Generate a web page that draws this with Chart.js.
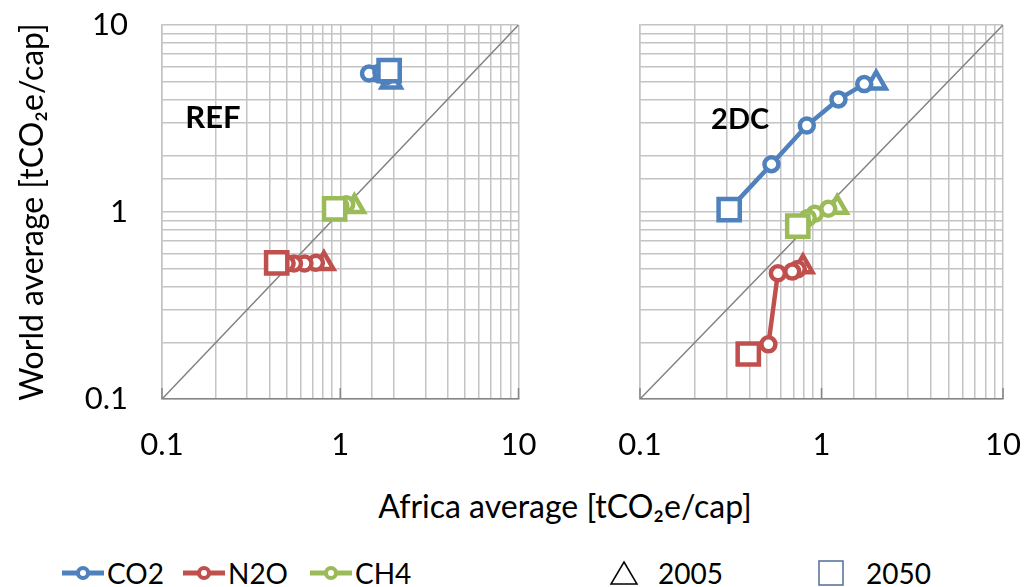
<!DOCTYPE html>
<html>
<head>
<meta charset="utf-8">
<script src="https://cdn.jsdelivr.net/npm/chart.js@4/dist/chart.umd.min.js"></script>
<style>
  body { margin: 0; background: #fff; width: 1025px; height: 587px; position: relative; overflow: hidden;
         font-family: Lato, "DejaVu Sans", sans-serif; color: #000; }
  #leftWrap { position: absolute; left: 0; top: 0; width: 538px; height: 470px; }
  #rightWrap { position: absolute; left: 530px; top: 0; width: 495px; height: 470px; }
  #xTitle { position: absolute; left: 265px; width: 600px; top: 487px; line-height: 38px;
            text-align: center; font-size: 32px; }
  .leg { position: absolute; top: 555px; height: 36px; line-height: 36px; font-size: 28px;
         display: flex; align-items: center; white-space: nowrap; }
  .leg svg { margin-right: 3px; }
</style>
</head>
<body>
<div id="leftWrap"><canvas id="refChart" width="538" height="470"></canvas></div>
<div id="rightWrap"><canvas id="dcChart" width="495" height="470"></canvas></div>
<div id="xTitle">Africa average [tCO₂e/cap]</div>
<div id="legend"></div>

<script>
// years of each point: first is 2005 (triangle), last is 2050 (square)
const years = [2005, 2010, 2020, 2030, 2040, 2050];
const seriesNames = ["CO2", "N2O", "CH4"];
const seriesColors = ["#4F81BD", "#C0504D", "#9BBB59"];
const tickLabels = ["0.1", "1", "10"];

// REF scenario: x = Africa average, y = World average [tCO2e/cap]
const refCO2x = [1.93, 1.80, 1.60, 1.45, 1.70, 1.88];
const refCO2y = [4.95, 5.30, 5.50, 5.50, 5.60, 5.70];
const refN2Ox = [0.81, 0.73, 0.63, 0.55, 0.50, 0.44];
const refN2Oy = [0.53, 0.535, 0.53, 0.53, 0.53, 0.535];
const refCH4x = [1.20, 1.08, 1.00, 0.97, 0.95, 0.93];
const refCH4y = [1.07, 1.10, 1.08, 1.06, 1.05, 1.04];

// 2DC scenario
const dcCO2x = [2.00, 1.72, 1.24, 0.83, 0.53, 0.31];
const dcCO2y = [4.90, 4.83, 4.00, 2.90, 1.80, 1.03];
const dcN2Ox = [0.79, 0.74, 0.69, 0.575, 0.51, 0.395];
const dcN2Oy = [0.51, 0.495, 0.48, 0.47, 0.196, 0.174];
const dcCH4x = [1.22, 1.09, 0.92, 0.84, 0.78, 0.74];
const dcCH4y = [1.06, 1.04, 0.98, 0.93, 0.88, 0.84];

const fontFamily = "Lato, 'DejaVu Sans', sans-serif";
const gridColor = "#c4c4c4";

function pts(xs, ys) {
  return xs.map((x, i) => ({ x: x, y: ys[i] }));
}

function pointStyles() {
  return years.map((y, i) => i === 0 ? "triangle" : (i === years.length - 1 ? "rect" : "circle"));
}
function pointRadii() {
  return years.map((y, i) => i === 0 ? 11 : (i === years.length - 1 ? 15 : 7));
}

function seriesDataset(name, color, xs, ys) {
  return {
    label: name,
    data: pts(xs, ys),
    showLine: true,
    borderColor: color,
    borderWidth: 4.5,
    pointStyle: pointStyles(),
    pointRadius: pointRadii(),
    pointBorderWidth: 4.5,
    pointBackgroundColor: "#fff",
    pointBorderColor: color
  };
}

function diagonal() {
  return {
    label: "1:1",
    data: [{ x: 0.1, y: 0.1 }, { x: 10, y: 10 }],
    showLine: true,
    borderColor: "#808080",
    borderWidth: 1.5,
    pointRadius: 0
  };
}

function majorLabel(v) {
  const l = Math.log10(v);
  if (Math.abs(l - Math.round(l)) < 1e-6) {
    return tickLabels[Math.round(l) + 1];
  }
  return "";
}

// short inner tick marks on the bottom axis + panel name
const panelDecor = {
  id: "panelDecor",
  afterDraw(chart, args, opts) {
    const ctx = chart.ctx;
    const xs = chart.scales.x, ys = chart.scales.y;
    ctx.save();
    ctx.strokeStyle = "#868686";
    ctx.lineWidth = 1.5;
    [0.1, 1, 10].forEach(v => {
      const px = xs.getPixelForValue(v);
      ctx.beginPath();
      ctx.moveTo(px, ys.bottom);
      ctx.lineTo(px, ys.bottom - 11);
      ctx.stroke();
    });
    ctx.font = "bold " + opts.size + "px " + fontFamily;
    ctx.fillStyle = "#000";
    ctx.textAlign = "center";
    ctx.textBaseline = "middle";
    ctx.fillText(opts.text, xs.getPixelForValue(opts.x), ys.getPixelForValue(opts.y));
    ctx.restore();
  }
};

function makePanel(id, sets, panelName, labelAt, labelSize, showY, yWidth, rightPad) {
  const tickFont = { family: fontFamily, size: 31 };
  return new Chart(document.getElementById(id), {
    type: "scatter",
    data: {
      datasets: [
        seriesDataset(seriesNames[0], seriesColors[0], sets[0][0], sets[0][1]),
        seriesDataset(seriesNames[1], seriesColors[1], sets[1][0], sets[1][1]),
        seriesDataset(seriesNames[2], seriesColors[2], sets[2][0], sets[2][1]),
        diagonal()
      ]
    },
    options: {
      responsive: false,
      animation: false,
      layout: { padding: { top: 25, right: rightPad, left: 0, bottom: 0 } },
      plugins: {
        legend: { display: false },
        tooltip: { enabled: false },
        panelDecor: { text: panelName, x: labelAt[0], y: labelAt[1], size: labelSize }
      },
      scales: {
        x: {
          type: "logarithmic",
          min: 0.1, max: 10,
          ticks: { autoSkip: false, maxRotation: 0, padding: 27, color: "#000", font: tickFont,
                   callback: v => majorLabel(v) },
          grid: { color: gridColor, lineWidth: 1.5, drawTicks: false },
          border: { color: "#868686", width: 1.5 },
          afterFit: s => { s.height = 71; s.paddingLeft = 0; s.paddingRight = 0; }
        },
        y: {
          type: "logarithmic",
          min: 0.1, max: 10,
          ticks: { display: showY, autoSkip: false, padding: 34, color: "#000", font: tickFont,
                   callback: v => majorLabel(v) },
          grid: { color: gridColor, lineWidth: 1.5, drawTicks: false },
          border: { color: gridColor, width: 1.5 },
          title: { display: showY, text: "World average [tCO₂e/cap]", color: "#000",
                   font: { family: fontFamily, size: 32 }, padding: { top: 13, bottom: 0 } },
          afterFit: s => { s.width = yWidth; s.paddingTop = 0; s.paddingBottom = 0; }
        }
      }
    },
    plugins: [panelDecor]
  });
}

makePanel("refChart",
  [[refCO2x, refCO2y], [refN2Ox, refN2Oy], [refCH4x, refCH4y]],
  "REF", [0.193, 3.18], 31, true, 162, 18);
makePanel("dcChart",
  [[dcCO2x, dcCO2y], [dcN2Ox, dcN2Oy], [dcCH4x, dcCH4y]],
  "2DC", [0.356, 3.13], 29, false, 110, 22);

// legend below both panels
const legend = document.getElementById("legend");
const legendLeft = [62, 183, 310];
seriesNames.forEach((name, i) => {
  const c = seriesColors[i];
  const d = document.createElement("div");
  d.className = "leg";
  d.style.left = legendLeft[i] + "px";
  d.innerHTML = '<svg width="42" height="20"><line x1="0" y1="10" x2="42" y2="10" stroke="' + c +
    '" stroke-width="5"/><circle cx="21" cy="10" r="5" fill="#fff" stroke="' + c +
    '" stroke-width="4"/></svg>' + name;
  legend.appendChild(d);
});
const yearItems = [
  { left: 609, text: String(years[0]),
    svg: '<svg width="30" height="26"><polygon points="15,2 28,24 2,24" fill="none" stroke="#000" stroke-width="1.5"/></svg>' },
  { left: 817, text: String(years[years.length - 1]),
    svg: '<svg width="30" height="26"><rect x="2" y="1" width="24" height="24" fill="none" stroke="#4f6e9c" stroke-width="1.5"/></svg>' }
];
yearItems.forEach(it => {
  const d = document.createElement("div");
  d.className = "leg";
  d.style.left = it.left + "px";
  d.innerHTML = it.svg + '<span style="margin-left:16px">' + it.text + '</span>';
  legend.appendChild(d);
});
</script>
</body>
</html>
